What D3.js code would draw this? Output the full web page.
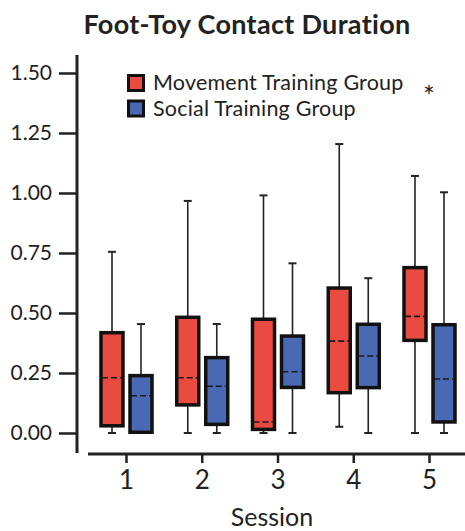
<!DOCTYPE html>
<html>
<head>
<meta charset="utf-8">
<script src="https://cdn.jsdelivr.net/npm/d3@7"></script>
<style>
  body { margin: 0; background: #fff; }
  svg text { font-family: Lato, "Open Sans", sans-serif; fill: #222; }
</style>
</head>
<body>
<div id="chart"></div>
<script>
const width = 465;
const height = 531;

const sessions = ['1', '2', '3', '4', '5'];
const groups = ['Movement Training Group', 'Social Training Group'];
const colors = ['#ea4b41', '#4a69b4'];
const yTicks = [0, 0.25, 0.5, 0.75, 1.0, 1.25, 1.5];

// [min, q1, median, q3, max] per session
const movementStats = [
  [0.00, 0.030, 0.230, 0.418, 0.755],
  [0.00, 0.117, 0.230, 0.482, 0.967],
  [0.00, 0.015, 0.046, 0.474, 0.990],
  [0.026, 0.168, 0.383, 0.604, 1.204],
  [0.00, 0.386, 0.486, 0.689, 1.071]
];
const socialStats = [
  [0.00, 0.003, 0.155, 0.239, 0.454],
  [0.00, 0.036, 0.195, 0.314, 0.454],
  [0.00, 0.190, 0.255, 0.404, 0.707],
  [0.00, 0.189, 0.321, 0.453, 0.645],
  [0.00, 0.046, 0.225, 0.451, 1.003]
];
const significant = ['5'];

const svg = d3.select('#chart').append('svg')
    .attr('width', width)
    .attr('height', height);

const y = d3.scaleLinear().domain([0, 1.5]).range([433, 73]);
const x = d3.scalePoint().domain(sessions).range([126, 429]);
const offsets = [-14, 15];
const boxW = 22;

// title
svg.append('text')
    .attr('x', 247).attr('y', 34)
    .attr('text-anchor', 'middle')
    .style('font-size', '27px').style('font-weight', 'bold')
    .style('letter-spacing', '0.3px')
    .text('Foot-Toy Contact Duration');

// y axis
const yAxis = svg.append('g')
    .attr('transform', 'translate(77,0)')
    .call(d3.axisLeft(y).tickValues(yTicks).tickFormat(d3.format('.2f')).tickSize(18).tickPadding(7));
yAxis.select('.domain').remove();
yAxis.selectAll('.tick line').attr('stroke', '#222').attr('stroke-width', 2.5);
yAxis.selectAll('.tick text').style('font-size', '21px').attr('fill', '#222');
svg.append('line')
    .attr('x1', 77).attr('x2', 77).attr('y1', 55).attr('y2', 453)
    .attr('stroke', '#222').attr('stroke-width', 3);

// x axis
const xAxis = svg.append('g')
    .attr('transform', 'translate(0,454)')
    .call(d3.axisBottom(x).tickSize(9).tickPadding(8));
xAxis.select('.domain').remove();
xAxis.selectAll('.tick line').attr('stroke', '#222').attr('stroke-width', 2.5);
xAxis.selectAll('.tick text').style('font-size', '26px').attr('fill', '#222');
svg.append('line')
    .attr('x1', 88).attr('x2', 465).attr('y1', 454).attr('y2', 454)
    .attr('stroke', '#222').attr('stroke-width', 3);
svg.append('text')
    .attr('x', 272).attr('y', 526)
    .attr('text-anchor', 'middle')
    .style('font-size', '25px')
    .text('Session');

// boxes
[movementStats, socialStats].forEach((stats, gi) => {
  const g = svg.append('g');
  const cx = (d, i) => x(sessions[i]) + offsets[gi];

  g.selectAll('line.whisker').data(stats).join('line')
      .attr('class', 'whisker')
      .attr('x1', cx).attr('x2', cx)
      .attr('y1', d => y(d[0])).attr('y2', d => y(d[4]))
      .attr('stroke', '#222').attr('stroke-width', 1.6);
  g.selectAll('line.capTop').data(stats).join('line')
      .attr('class', 'capTop')
      .attr('x1', (d, i) => cx(d, i) - 4).attr('x2', (d, i) => cx(d, i) + 4)
      .attr('y1', d => y(d[4])).attr('y2', d => y(d[4]))
      .attr('stroke', '#222').attr('stroke-width', 2);
  g.selectAll('line.capBot').data(stats).join('line')
      .attr('class', 'capBot')
      .attr('x1', (d, i) => cx(d, i) - 4).attr('x2', (d, i) => cx(d, i) + 4)
      .attr('y1', d => y(d[0])).attr('y2', d => y(d[0]))
      .attr('stroke', '#222').attr('stroke-width', 2);

  g.selectAll('rect').data(stats).join('rect')
      .attr('x', (d, i) => cx(d, i) - boxW / 2)
      .attr('width', boxW)
      .attr('y', d => y(d[3]))
      .attr('height', d => y(d[1]) - y(d[3]))
      .attr('fill', colors[gi])
      .attr('stroke', '#111').attr('stroke-width', 3.5);

  g.selectAll('line.median').data(stats).join('line')
      .attr('class', 'median')
      .attr('x1', (d, i) => cx(d, i) - boxW / 2 + 1).attr('x2', (d, i) => cx(d, i) + boxW / 2 - 1)
      .attr('y1', d => y(d[2])).attr('y2', d => y(d[2]))
      .attr('stroke', '#1a1a1a').attr('stroke-width', 1.6)
      .attr('stroke-dasharray', '6,3');
});

// significance marker
svg.selectAll('text.sig').data(significant).join('text')
    .attr('class', 'sig')
    .attr('x', d => x(d)).attr('y', 107)
    .attr('text-anchor', 'middle')
    .style('font-size', '28px')
    .text('*');

// legend
const legend = svg.append('g').attr('transform', 'translate(128,75)');
groups.forEach((name, i) => {
  const row = legend.append('g').attr('transform', `translate(0,${i * 25.5})`);
  row.append('rect')
      .attr('x', 0.5).attr('y', 0.5).attr('width', 15).attr('height', 15)
      .attr('fill', colors[i]).attr('stroke', '#111').attr('stroke-width', 3);
  row.append('text')
      .attr('x', 25).attr('y', 15)
      .style('font-size', '21.5px')
      .style('letter-spacing', '0.2px')
      .text(name);
});
</script>
</body>
</html>
